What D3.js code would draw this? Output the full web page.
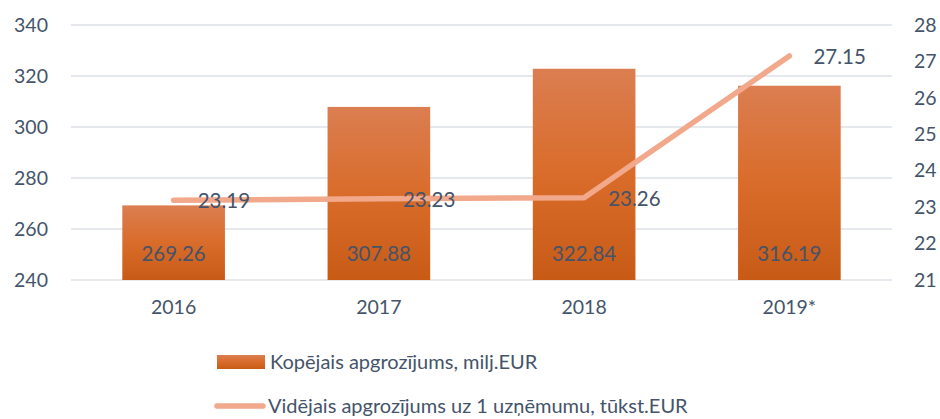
<!DOCTYPE html>
<html>
<head>
<meta charset="utf-8">
<script src="https://cdn.jsdelivr.net/npm/d3@7/dist/d3.min.js"></script>
<style>
  body { margin: 0; background: #fff; }
  svg { display: block; font-family: Lato, "Open Sans", sans-serif; }
</style>
</head>
<body>
<div id="chart"></div>
<script>
const years = ["2016", "2017", "2018", "2019*"];
const totalTurnover = [269.26, 307.88, 322.84, 316.19];
const avgTurnover = [23.19, 23.23, 23.26, 27.15];
const leftTicks = [240, 260, 280, 300, 320, 340];
const rightTicks = [21, 22, 23, 24, 25, 26, 27, 28];
const barLabel = "Kopējais apgrozījums, milj.EUR";
const lineLabel = "Vidējais apgrozījums uz 1 uzņēmumu, tūkst.EUR";

const width = 940, height = 419;
const margin = { top: 25, right: 48, bottom: 139, left: 71 };
const textColor = "#44546a";
const lineColor = "#f2a88b";

const svg = d3.select("#chart").append("svg")
    .attr("width", width)
    .attr("height", height);

const defs = svg.append("defs");
const grad = defs.append("linearGradient")
    .attr("id", "barGrad")
    .attr("x1", 0).attr("y1", 0).attr("x2", 0).attr("y2", 1);
grad.append("stop").attr("offset", "0%").attr("stop-color", "#db7e51");
grad.append("stop").attr("offset", "50%").attr("stop-color", "#d96c2a");
grad.append("stop").attr("offset", "100%").attr("stop-color", "#c75b16");

const x = d3.scaleBand()
    .domain(years)
    .range([margin.left, width - margin.right])
    .paddingInner(0.5)
    .paddingOuter(0.25);

const yLeft = d3.scaleLinear()
    .domain([240, 340])
    .range([height - margin.bottom, margin.top]);

const yRight = d3.scaleLinear()
    .domain([21, 28])
    .range([height - margin.bottom, margin.top]);

// gridlines
svg.append("g")
    .selectAll("line")
    .data(leftTicks)
    .enter().append("line")
    .attr("x1", margin.left)
    .attr("x2", width - margin.right)
    .attr("y1", d => yLeft(d))
    .attr("y2", d => yLeft(d))
    .attr("stroke", "#dde1e7")
    .attr("stroke-width", 1.3);

// left axis
const leftAxis = svg.append("g")
    .attr("transform", `translate(${margin.left - 23},0)`)
    .call(d3.axisLeft(yLeft).tickValues(leftTicks).tickFormat(d3.format("d")).tickSize(0).tickPadding(0));
leftAxis.select(".domain").remove();

// right axis
const rightAxis = svg.append("g")
    .attr("transform", `translate(${width - margin.right + 22},0)`)
    .call(d3.axisRight(yRight).tickValues(rightTicks).tickFormat(d3.format("d")).tickSize(0).tickPadding(0));
rightAxis.select(".domain").remove();

// category axis
const bottomAxis = svg.append("g")
    .attr("transform", `translate(0,${height - margin.bottom + 20})`)
    .call(d3.axisBottom(x).tickSize(0).tickPadding(0));
bottomAxis.select(".domain").remove();

svg.selectAll(".tick text")
    .attr("fill", textColor)
    .attr("font-size", 19.5)
    .attr("font-family", "Lato, sans-serif");
bottomAxis.selectAll(".tick text").attr("dy", "0.71em");

// bars
svg.append("g")
    .selectAll("rect")
    .data(years)
    .enter().append("rect")
    .attr("x", d => x(d))
    .attr("width", x.bandwidth())
    .attr("y", (d, i) => yLeft(totalTurnover[i]))
    .attr("height", (d, i) => yLeft(240) - yLeft(totalTurnover[i]))
    .attr("fill", "url(#barGrad)");

// bar labels
svg.append("g")
    .selectAll("text")
    .data(years)
    .enter().append("text")
    .attr("x", d => x(d) + x.bandwidth() / 2)
    .attr("y", yLeft(240) - 26)
    .attr("dy", "0.35em")
    .attr("text-anchor", "middle")
    .attr("fill", textColor)
    .attr("font-size", 20.5)
    .text((d, i) => totalTurnover[i].toFixed(2));

// line
const line = d3.line()
    .x((d, i) => x(years[i]) + x.bandwidth() / 2)
    .y(d => yRight(d));

svg.append("path")
    .datum(avgTurnover)
    .attr("d", line)
    .attr("fill", "none")
    .attr("stroke", lineColor)
    .attr("stroke-width", 5.5)
    .attr("stroke-linecap", "round")
    .attr("stroke-linejoin", "round");

// line labels
svg.append("g")
    .selectAll("text")
    .data(avgTurnover)
    .enter().append("text")
    .attr("x", (d, i) => x(years[i]) + x.bandwidth() / 2 + 24)
    .attr("y", (d, i) => yRight(d) + 1)
    .attr("dy", "0.35em")
    .attr("fill", textColor)
    .attr("font-size", 20.5)
    .text(d => d.toFixed(2));

// legend
const legend = svg.append("g");
legend.append("rect")
    .attr("x", 217).attr("y", 355)
    .attr("width", 48).attr("height", 14)
    .attr("fill", "url(#barGrad)");
legend.append("text")
    .attr("x", 270).attr("y", 362)
    .attr("dy", "0.35em")
    .attr("fill", textColor)
    .attr("font-size", 20)
    .text(barLabel);
legend.append("line")
    .attr("x1", 217).attr("x2", 263)
    .attr("y1", 406).attr("y2", 406)
    .attr("stroke", lineColor)
    .attr("stroke-width", 5.5)
    .attr("stroke-linecap", "round");
legend.append("text")
    .attr("x", 268).attr("y", 406)
    .attr("dy", "0.35em")
    .attr("fill", textColor)
    .attr("font-size", 20)
    .text(lineLabel);
</script>
</body>
</html>
